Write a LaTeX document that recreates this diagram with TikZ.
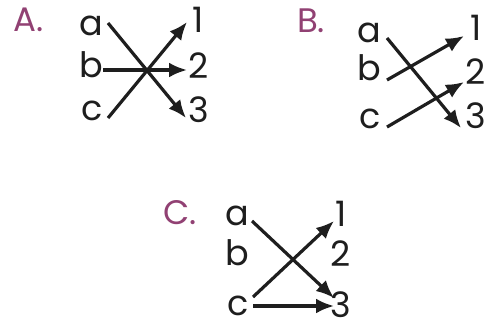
\documentclass[tikz,border=0pt]{standalone}
\usepackage{fontspec}
\setmainfont{Poppins}
\usetikzlibrary{arrows.meta}
\definecolor{ink}{RGB}{30,30,30}
\definecolor{mauve}{RGB}{145,65,115}
\tikzset{
  lbl/.style={inner sep=0pt, font=\fontsize{35}{35}\selectfont, text=ink},
  head/.style={inner sep=0pt, font=\fontsize{34}{34}\selectfont, text=mauve},
  arr/.style={draw=ink, line width=3.2pt, -{Latex[length=18pt,width=15pt]}}
}
\begin{document}
\begin{tikzpicture}[x=1pt,y=-1pt]
\useasboundingbox (0,0) rectangle (493,325);
% Panel A
\node[head] (hA) at (29,20) {A.};
\node[lbl] (Aa) at (91,26) {a};
\node[lbl] (Ab) at (91,65) {b};
\node[lbl] (Ac) at (92,111) {c};
\node[lbl] (A1) at (198,20) {1};
\node[lbl] (A2) at (199,66) {2};
\node[lbl] (A3) at (199,110) {3};
\coordinate (Aas) at (108,23); \coordinate (A3e) at (186,118);
\coordinate (Acs) at (108,118); \coordinate (A1e) at (187,22);
\coordinate (Abs) at (103,70); \coordinate (A2e) at (187,70);
\draw[arr] (Aas) -- (A3e);
\draw[arr] (Acs) -- (A1e);
\draw[arr] (Abs) -- (A2e);
% Panel B
\node[head] (hB) at (311,21) {B.};
\node[lbl] (Ba) at (369,33) {a};
\node[lbl] (Bb) at (369,68) {b};
\node[lbl] (Bc) at (370,119) {c};
\node[lbl] (B1) at (476,28) {1};
\node[lbl] (B2) at (476,72) {2};
\node[lbl] (B3) at (476,116) {3};
\coordinate (Bas) at (387,38); \coordinate (B3e) at (461,128);
\coordinate (Bbs) at (387,80); \coordinate (B1e) at (464,36);
\coordinate (Bcs) at (387,127); \coordinate (B2e) at (464,82);
\draw[arr] (Bas) -- (B3e);
\draw[arr] (Bbs) -- (B1e);
\draw[arr] (Bcs) -- (B2e);
% Panel C
\node[head] (hC) at (180,213) {C.};
\node[lbl] (Ca) at (237,216) {a};
\node[lbl] (Cb) at (237,253) {b};
\node[lbl] (Cc) at (238,306) {c};
\node[lbl] (C1) at (341,214) {1};
\node[lbl] (C2) at (341,254) {2};
\node[lbl] (C3) at (341,305) {3};
\coordinate (Cas) at (252,221); \coordinate (C3e) at (334,298);
\coordinate (Ccs) at (253,297); \coordinate (C1e) at (334,221);
\coordinate (Ccs2) at (253,306); \coordinate (C3e2) at (334,306);
\draw[arr] (Cas) -- (C3e);
\draw[arr] (Ccs) -- (C1e);
\draw[arr] (Ccs2) -- (C3e2);
\end{tikzpicture}
\end{document}
